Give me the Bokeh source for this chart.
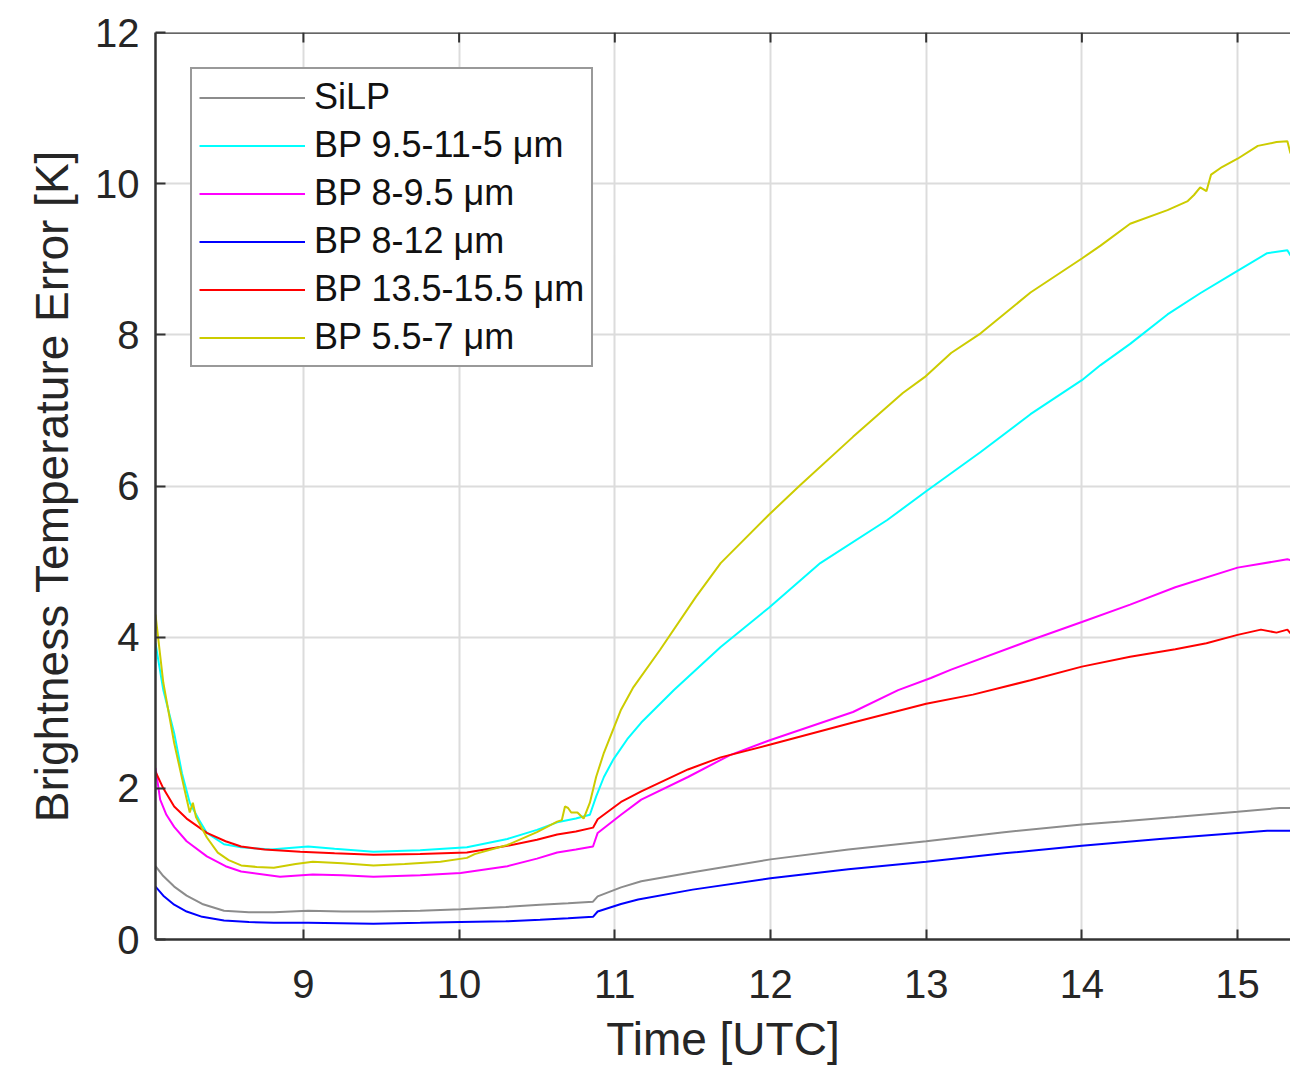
from bokeh.plotting import figure
from bokeh.models import Range1d, FixedTicker, Legend, LegendItem
from bokeh.embed import file_html
from bokeh.resources import INLINE

# ---------------- data ----------------
silp_x = [8.05, 8.10, 8.17, 8.25, 8.35, 8.49, 8.65, 8.81, 9.03, 9.25, 9.45, 9.75, 10.01, 10.30, 10.52, 10.70, 10.86, 10.89, 11.04, 11.17, 11.50, 12.00, 12.50, 13.00, 13.50, 14.00, 14.25, 14.60, 15.00, 15.27, 15.34]
silp_y = [0.97, 0.84, 0.70, 0.58, 0.47, 0.38, 0.36, 0.36, 0.38, 0.37, 0.37, 0.38, 0.40, 0.43, 0.46, 0.48, 0.50, 0.57, 0.69, 0.77, 0.89, 1.06, 1.19, 1.30, 1.42, 1.52, 1.56, 1.62, 1.69, 1.74, 1.74]

cyan_x = [8.05, 8.10, 8.17, 8.22, 8.27, 8.33, 8.38, 8.49, 8.60, 8.79, 9.03, 9.20, 9.45, 9.75, 10.05, 10.31, 10.50, 10.63, 10.75, 10.84, 10.88, 10.93, 10.99, 11.08, 11.17, 11.38, 11.68, 11.99, 12.32, 12.75, 13.00, 13.35, 13.67, 14.00, 14.12, 14.31, 14.55, 14.76, 14.97, 15.19, 15.32, 15.34]
cyan_y = [3.92, 3.30, 2.73, 2.20, 1.81, 1.58, 1.41, 1.26, 1.22, 1.19, 1.23, 1.20, 1.16, 1.18, 1.22, 1.33, 1.45, 1.55, 1.60, 1.65, 1.89, 2.15, 2.38, 2.65, 2.87, 3.30, 3.87, 4.39, 4.98, 5.55, 5.93, 6.45, 6.95, 7.40, 7.60, 7.88, 8.27, 8.55, 8.81, 9.08, 9.12, 9.05]

mag_x = [8.05, 8.08, 8.12, 8.17, 8.25, 8.38, 8.50, 8.60, 8.85, 9.06, 9.25, 9.45, 9.75, 10.01, 10.31, 10.50, 10.63, 10.75, 10.86, 10.89, 11.04, 11.17, 11.47, 11.74, 12.00, 12.53, 12.82, 13.03, 13.16, 13.67, 14.00, 14.31, 14.60, 15.00, 15.32, 15.34]
mag_y = [2.27, 1.85, 1.65, 1.49, 1.30, 1.10, 0.97, 0.90, 0.83, 0.86, 0.85, 0.83, 0.85, 0.88, 0.97, 1.07, 1.15, 1.19, 1.23, 1.41, 1.65, 1.85, 2.15, 2.44, 2.64, 3.01, 3.30, 3.46, 3.57, 3.96, 4.20, 4.43, 4.66, 4.92, 5.03, 5.02]

blue_x = [8.05, 8.10, 8.17, 8.25, 8.35, 8.49, 8.65, 8.81, 9.03, 9.45, 9.75, 10.01, 10.30, 10.52, 10.70, 10.86, 10.89, 11.04, 11.15, 11.50, 12.00, 12.50, 13.00, 13.50, 14.00, 14.50, 15.00, 15.19, 15.34]
blue_y = [0.70, 0.58, 0.46, 0.37, 0.30, 0.25, 0.23, 0.22, 0.22, 0.21, 0.22, 0.23, 0.24, 0.26, 0.28, 0.30, 0.37, 0.47, 0.53, 0.66, 0.81, 0.93, 1.03, 1.14, 1.24, 1.33, 1.41, 1.44, 1.44]

red_x = [8.05, 8.10, 8.17, 8.25, 8.38, 8.50, 8.60, 8.75, 8.98, 9.20, 9.45, 9.75, 10.05, 10.31, 10.50, 10.63, 10.75, 10.86, 10.89, 11.04, 11.17, 11.47, 11.68, 12.00, 12.53, 13.00, 13.30, 13.67, 14.00, 14.31, 14.60, 14.80, 15.00, 15.15, 15.25, 15.32, 15.34]
red_y = [2.22, 2.00, 1.76, 1.60, 1.41, 1.30, 1.23, 1.19, 1.16, 1.14, 1.12, 1.13, 1.15, 1.24, 1.32, 1.39, 1.43, 1.48, 1.59, 1.82, 1.96, 2.25, 2.41, 2.58, 2.87, 3.12, 3.24, 3.43, 3.61, 3.74, 3.84, 3.92, 4.03, 4.10, 4.06, 4.10, 4.05]

yel_x = [8.05, 8.10, 8.17, 8.24, 8.27, 8.29, 8.31, 8.38, 8.45, 8.52, 8.60, 8.70, 8.81, 8.95, 9.06, 9.25, 9.45, 9.65, 9.88, 10.05, 10.10, 10.31, 10.50, 10.63, 10.66, 10.68, 10.70, 10.72, 10.76, 10.80, 10.84, 10.88, 10.93, 11.04, 11.12, 11.29, 11.52, 11.68, 11.99, 12.19, 12.53, 12.85, 12.99, 13.16, 13.35, 13.67, 14.00, 14.12, 14.31, 14.55, 14.68, 14.72, 14.76, 14.80, 14.83, 14.90, 15.00, 15.13, 15.25, 15.32, 15.34]
yel_y = [4.30, 3.40, 2.60, 1.95, 1.68, 1.81, 1.62, 1.35, 1.15, 1.05, 0.98, 0.96, 0.95, 1.00, 1.03, 1.01, 0.98, 1.00, 1.03, 1.08, 1.13, 1.25, 1.42, 1.56, 1.58, 1.76, 1.74, 1.68, 1.68, 1.60, 1.81, 2.15, 2.47, 3.04, 3.34, 3.83, 4.53, 4.98, 5.62, 6.01, 6.65, 7.23, 7.44, 7.76, 8.02, 8.56, 9.01, 9.18, 9.47, 9.65, 9.77, 9.85, 9.95, 9.90, 10.12, 10.22, 10.33, 10.50, 10.55, 10.56, 10.40]

series = [
    ("SiLP", silp_x, silp_y, "#8c8c8c"),
    ("BP 9.5-11-5 \u03bcm", cyan_x, cyan_y, "#00ffff"),
    ("BP 8-9.5 \u03bcm", mag_x, mag_y, "#ff00ff"),
    ("BP 8-12 \u03bcm", blue_x, blue_y, "#0000ff"),
    ("BP 13.5-15.5 \u03bcm", red_x, red_y, "#ff0000"),
    ("BP 5.5-7 \u03bcm", yel_x, yel_y, "#cccc00"),
]

x_ticks = [9, 10, 11, 12, 13, 14, 15]
y_ticks = [0, 2, 4, 6, 8, 10, 12]
x_title = "Time [UTC]"
y_title = "Brightness Temperature Error [K]"
x_min, x_max = 8.05, 15.34
y_min, y_max = 0, 12

FONT = "Liberation Sans"
TXT = "#262626"
AX = "#333333"

FRAME_H = 1067 - 32 - 127
p = figure(width=1290, height=1067, output_backend="svg", toolbar_location=None,
           x_range=Range1d(x_min, x_max), y_range=Range1d(y_min, y_max),
           min_border_left=155, min_border_right=0, min_border_top=32, min_border_bottom=127,
           x_axis_label=x_title, y_axis_label=y_title)
p.outline_line_color = None
p.background_fill_color = "white"
p.border_fill_color = "white"

for ax, ticks in ((p.xaxis[0], x_ticks), (p.yaxis[0], y_ticks)):
    ax.ticker = FixedTicker(ticks=ticks)
    ax.major_tick_in = 10
    ax.major_tick_out = 0
    ax.minor_tick_line_color = None
    ax.axis_line_color = AX
    ax.axis_line_width = 2.5
    ax.major_tick_line_color = AX
    ax.major_tick_line_width = 2
    ax.major_label_text_font = FONT
    ax.major_label_text_font_size = "40px"
    ax.major_label_text_color = TXT
    ax.axis_label_text_font = FONT
    ax.axis_label_text_font_size = "46px"
    ax.axis_label_text_font_style = "normal"
    ax.axis_label_text_color = TXT

p.xaxis.major_label_standoff = 30
p.xaxis.axis_label_standoff = 12
p.yaxis.major_label_standoff = 16
p.yaxis.axis_label_standoff = 14

# top frame line with inward ticks (tick length 10 px expressed in data units)
tick_len = (y_max - y_min) * 10 / FRAME_H
p.line([x_min, x_max], [y_max, y_max], line_color=AX, line_width=2.5)
p.segment(x0=x_ticks, y0=[y_max] * len(x_ticks), x1=x_ticks, y1=[y_max - tick_len] * len(x_ticks),
          line_color=AX, line_width=2)

for g in (p.xgrid[0], p.ygrid[0]):
    g.grid_line_color = "#dcdcdc"
    g.grid_line_width = 2
p.xgrid.ticker = FixedTicker(ticks=x_ticks)
p.ygrid.ticker = FixedTicker(ticks=y_ticks)

items = []
for name, xs, ys, col in series:
    r = p.line(xs, ys, line_color=col, line_width=2)
    items.append(LegendItem(label=name, renderers=[r]))

leg = Legend(items=items, location="top_left", margin=35,
             label_text_font=FONT, label_text_font_size="36px", label_text_color="#111111",
             glyph_width=106, glyph_height=41, label_height=41, spacing=6,
             label_standoff=9, padding=7,
             border_line_color=AX, border_line_width=2, background_fill_alpha=1.0)
p.add_layout(leg)

open("out.html", "w").write(file_html(p, INLINE))
